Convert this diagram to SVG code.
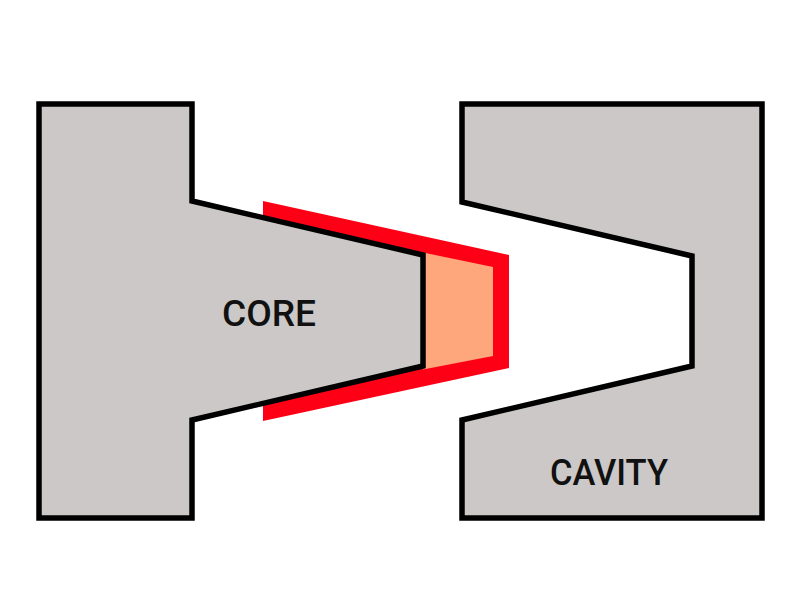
<svg xmlns="http://www.w3.org/2000/svg" width="800" height="600" viewBox="0 0 800 600">
  <style>
    .block { fill: #cbc8c7; stroke: #000; stroke-width: 5.5; stroke-linejoin: miter; }
    .label { font-family: "Roboto", "Liberation Sans", sans-serif; font-size: 37px; font-weight: 500; fill: #111; }
  </style>
  <rect width="800" height="600" fill="#fff"/>
  <g id="part">
    <polygon points="263,201 509,255 509,368 263,421" fill="#fe0016"/>
    <polygon points="423,252.5 493,267 493,356 423,369.5" fill="#fea67c"/>
  </g>
  <g id="core">
    <polygon class="block" points="39,104 192,104 192,201 423,255 423,366 192,420 192,518 39,518"/>
    <text class="label" x="222" y="326" textLength="94" lengthAdjust="spacingAndGlyphs">CORE</text>
  </g>
  <g id="cavity">
    <polygon class="block" points="462,104 762,104 762,518 462,518 462,420 692,366 692,256 462,202"/>
    <text class="label" x="550" y="485" textLength="118" lengthAdjust="spacingAndGlyphs">CAVITY</text>
  </g>
</svg>
